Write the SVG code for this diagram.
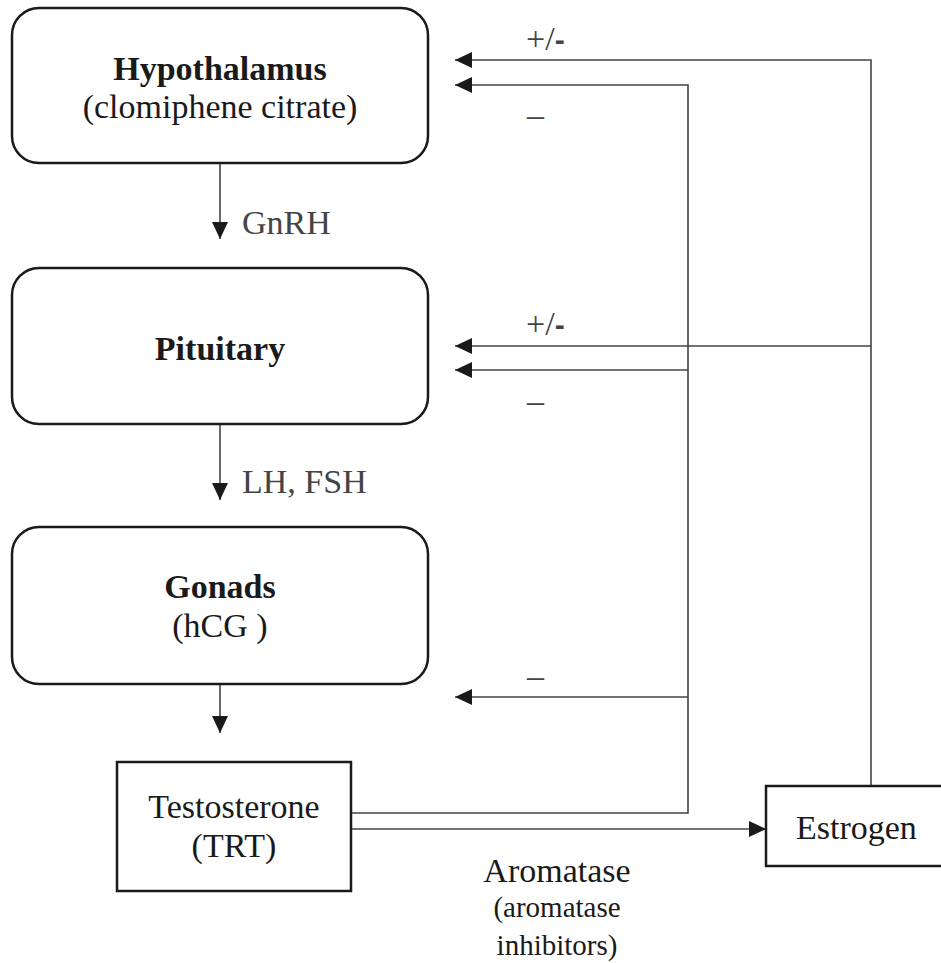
<svg xmlns="http://www.w3.org/2000/svg" width="941" height="963" viewBox="0 0 941 963">
<style>
.box{fill:#fff;stroke:#1a1a1a;stroke-width:2.5}
.t{font-family:"Liberation Serif","Times New Roman",serif;font-size:34px;fill:#1a1a1a}
.b{font-weight:bold}
.s{font-size:29px}
.c{fill:none;stroke:#444;stroke-width:1.6}
.lbl{font-family:"Liberation Serif","Times New Roman",serif;font-size:34px;fill:#444}
</style>
<defs>
<marker id="ah" viewBox="0 0 17 16" refX="17" refY="8" markerWidth="17" markerHeight="16" markerUnits="userSpaceOnUse" orient="auto">
<path d="M0,0 L17,8 L0,16 z" fill="#1a1a1a"/>
</marker>
</defs>
<rect x="0" y="0" width="941" height="963" fill="#fff"/>
<g id="connectors">
<line class="c" x1="220" y1="163" x2="220" y2="239" marker-end="url(#ah)"/>
<line class="c" x1="220" y1="424" x2="220" y2="500" marker-end="url(#ah)"/>
<line class="c" x1="220" y1="684" x2="220" y2="733" marker-end="url(#ah)"/>
<path class="c" d="M351,813 H688 V85 H455" marker-end="url(#ah)"/>
<line class="c" x1="688" y1="370" x2="455" y2="370" marker-end="url(#ah)"/>
<line class="c" x1="688" y1="697" x2="455" y2="697" marker-end="url(#ah)"/>
<path class="c" d="M871,786 V60 H455" marker-end="url(#ah)"/>
<line class="c" x1="871" y1="346" x2="455" y2="346" marker-end="url(#ah)"/>
<line class="c" x1="351" y1="829" x2="766" y2="829" marker-end="url(#ah)"/>
<text class="lbl" x="242" y="234">GnRH</text>
<text class="lbl" x="242" y="493">LH, FSH</text>
<text class="lbl" x="526" y="50">+/<tspan font-family="Liberation Sans,Arial,sans-serif" font-weight="bold" font-size="30">-</tspan></text>
<text class="lbl" x="527" y="126">–</text>
<text class="lbl" x="526" y="335">+/<tspan font-family="Liberation Sans,Arial,sans-serif" font-weight="bold" font-size="30">-</tspan></text>
<text class="lbl" x="527" y="412">–</text>
<text class="lbl" x="527" y="687">–</text>
<text class="t" x="557" y="882" text-anchor="middle">Aromatase</text>
<text class="t s" x="557" y="917" text-anchor="middle">(aromatase</text>
<text class="t s" x="557" y="955" text-anchor="middle">inhibitors)</text>
</g>
<g id="hypothalamus">
<rect class="box" x="12" y="8" width="416" height="155" rx="27"/>
<text class="t b" x="220" y="80" text-anchor="middle">Hypothalamus</text>
<text class="t" x="220" y="118" text-anchor="middle">(clomiphene citrate)</text>
</g>
<g id="pituitary">
<rect class="box" x="12" y="268" width="416" height="156" rx="27"/>
<text class="t b" x="220" y="360" text-anchor="middle">Pituitary</text>
</g>
<g id="gonads">
<rect class="box" x="12" y="527" width="416" height="157" rx="27"/>
<text class="t b" x="220" y="598" text-anchor="middle">Gonads</text>
<text class="t" x="220" y="637" text-anchor="middle">(hCG )</text>
</g>
<g id="testosterone">
<rect class="box" x="117" y="762" width="234" height="129"/>
<text class="t" x="234" y="818" text-anchor="middle">Testosterone</text>
<text class="t" x="234" y="857" text-anchor="middle">(TRT)</text>
</g>
<g id="estrogen">
<rect class="box" x="766" y="786" width="190" height="80"/>
<text class="t" x="796" y="839">Estrogen</text>
</g>
</svg>
